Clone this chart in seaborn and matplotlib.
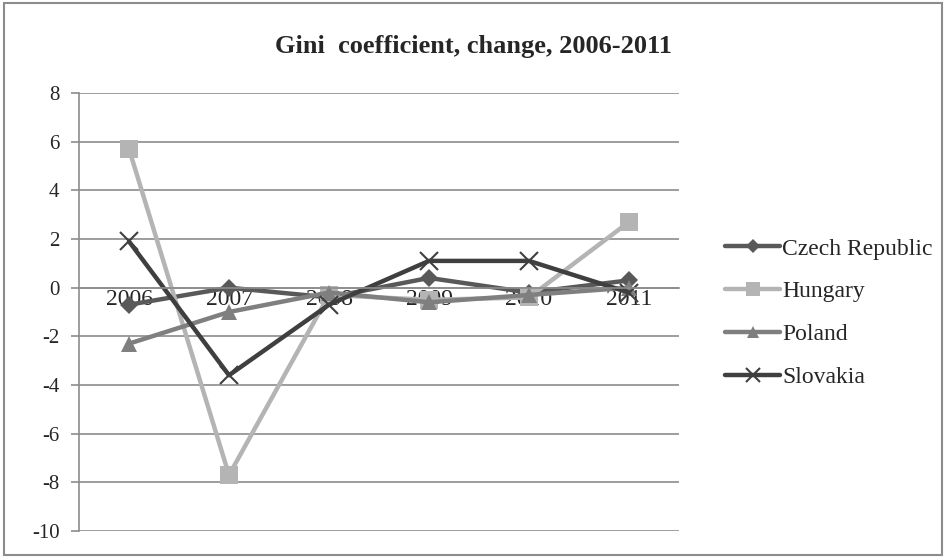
import matplotlib.pyplot as plt
import seaborn as sns
import pandas as pd
from matplotlib import patches

years = ['2006', '2007', '2008', '2009', '2010', '2011']
czech = [-0.7, 0.0, -0.4, 0.4, -0.2, 0.3]
hungary = [5.7, -7.7, -0.3, -0.5, -0.4, 2.7]
poland = [-2.3, -1.0, -0.2, -0.6, -0.3, 0.0]
slovakia = [1.9, -3.6, -0.7, 1.1, 1.1, -0.2]
countries = ['Czech Republic', 'Hungary', 'Poland', 'Slovakia']
y_ticks = [8, 6, 4, 2, 0, -2, -4, -6, -8, -10]

df = pd.DataFrame({
    'year': years * 4,
    'value': czech + hungary + poland + slovakia,
    'country': [c for c in countries for _ in years],
})

palette = {'Czech Republic': '#595959', 'Hungary': '#b4b4b4',
           'Poland': '#7f7f7f', 'Slovakia': '#3f3f3f'}
markers = {'Czech Republic': 'D', 'Hungary': 's', 'Poland': '^', 'Slovakia': 'x'}
sizes = {'Czech Republic': 9, 'Hungary': 13, 'Poland': 12, 'Slovakia': 13}

sns.set_style('white')
plt.rcParams['font.family'] = ['Liberation Serif', 'DejaVu Serif']
plt.rcParams['axes.unicode_minus'] = False

fig = plt.figure(figsize=(9.46, 5.57), dpi=100)
ax = fig.add_axes([79 / 946, 26 / 557, 600 / 946, 438 / 557])

for c in countries:
    sub = df[df['country'] == c]
    sns.lineplot(data=sub, x='year', y='value', color=palette[c], linewidth=3.2,
                 marker=markers[c], markersize=sizes[c], markeredgewidth=1.5 if c == 'Slovakia' else 0,
                 markeredgecolor=palette[c], label=c, ax=ax, sort=False)

ax.set_xlim(-0.5, 5.5)
ax.set_ylim(-10, 8)
ax.set_yticks(y_ticks)
ax.yaxis.grid(True, color='#8c8c8c', linewidth=1.2)
ax.set_axisbelow(True)
ax.set_xlabel('')
ax.set_ylabel('')

for s in ['top', 'right']:
    ax.spines[s].set_visible(False)
ax.spines['left'].set_color('#8c8c8c')
ax.spines['bottom'].set_color('#8c8c8c')
ax.spines['bottom'].set_position(('data', 0))
ax.spines['left'].set_linewidth(1.2)
ax.spines['bottom'].set_linewidth(1.2)

ax.set_xticks(range(len(years)))
ax.set_xticklabels(years)
ax.set_xticks([i - 0.5 for i in range(len(years) + 1)], minor=True)
ax.tick_params(axis='x', which='major', length=0, labelsize=17, pad=1)
ax.tick_params(axis='x', which='minor', length=6, color='#8c8c8c', direction='out', width=1.2)
ax.tick_params(axis='y', length=6, color='#8c8c8c', width=1.2, labelsize=15,
               left=True, direction='out', pad=8)

ax.legend(loc='center left', bbox_to_anchor=(716 / 946, 0.338, 0.2, 0.2),
          bbox_transform=fig.transFigure, frameon=False, fontsize=17, markerscale=0.75,
          handlelength=2.3, labelspacing=0.9, handletextpad=0.1, borderaxespad=0)

fig.text(0.5, 1 - 47 / 557, 'Gini  coefficient, change, 2006-2011', ha='center',
         va='center', fontsize=19, fontweight='bold')

fig.patches.append(patches.Rectangle((0.004, 0.004), 0.992, 0.99, transform=fig.transFigure,
                                     fill=False, edgecolor='#8c8c8c', linewidth=1.5))

fig.savefig('out.png', dpi=100)
